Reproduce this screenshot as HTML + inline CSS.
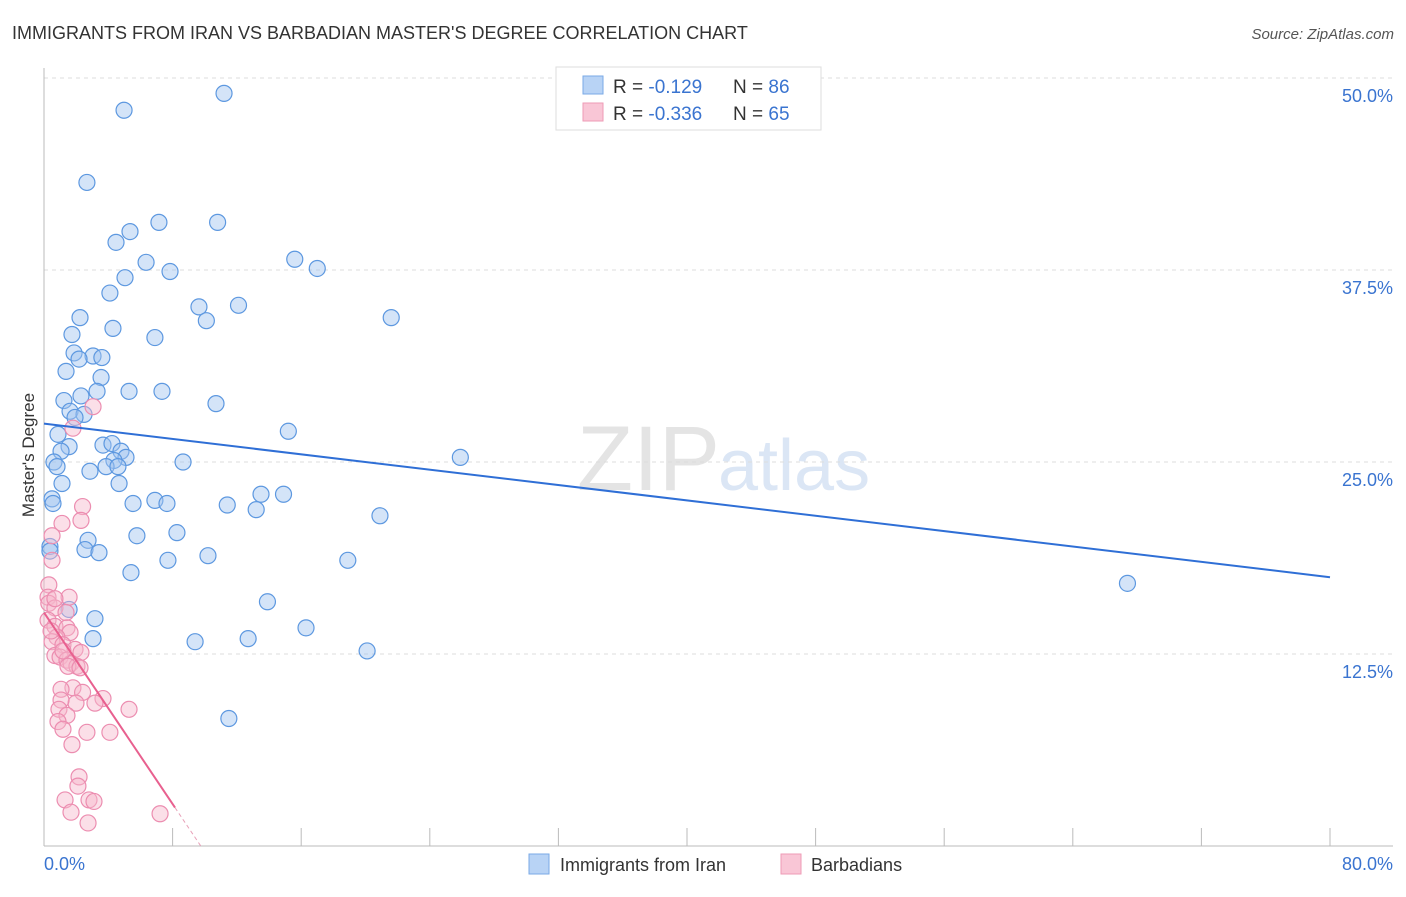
<!DOCTYPE html>
<html><head><meta charset="utf-8"><style>
body{margin:0;background:#fff;font-family:"Liberation Sans",sans-serif;}
svg text{font-family:"Liberation Sans",sans-serif;}
</style></head><body>
<svg id="chart" width="1406" height="892" xmlns="http://www.w3.org/2000/svg">
<text x="12" y="39" font-size="18" fill="#333">IMMIGRANTS FROM IRAN VS BARBADIAN MASTER'S DEGREE CORRELATION CHART</text>
<text x="1394" y="39" font-size="15" fill="#555" text-anchor="end" font-style="italic">Source: ZipAtlas.com</text>
<text x="720" y="490" font-size="92" fill="#e4e4e4" text-anchor="end" font-family="Liberation Serif">ZIP</text>
<text x="718" y="490" font-size="72" fill="#dbe6f5">atlas</text>
<g id="grid"></g><g id="axes"></g><g id="marks"></g>
<text x="34" y="455" font-size="17" fill="#333" text-anchor="middle" transform="rotate(-90 34 455)">Master's Degree</text>
<text x="44" y="870" font-size="18" fill="#3a74d0">0.0%</text>
<text x="1393" y="870" font-size="18" fill="#3a74d0" text-anchor="end">80.0%</text>
<g>
<rect x="556" y="67" width="265" height="63" fill="#fff" stroke="#ddd"/>
<rect x="583" y="76" width="20" height="18" fill="#b8d3f5" stroke="#7aaae6"/>
<rect x="583" y="103" width="20" height="18" fill="#f9c6d6" stroke="#ee9bb6"/>
<text x="613" y="93" font-size="19" fill="#333">R = <tspan fill="#3a74d0"> -0.129</tspan><tspan x="733">N = </tspan><tspan fill="#3a74d0">86</tspan></text>
<text x="613" y="120" font-size="19" fill="#333">R = <tspan fill="#3a74d0">-0.336</tspan><tspan x="733">N = </tspan><tspan fill="#3a74d0">65</tspan></text>
</g>
<g>
<rect x="529" y="854" width="20" height="20" fill="#b8d3f5" stroke="#7aaae6"/>
<text x="560" y="871" font-size="18" fill="#333">Immigrants from Iran</text>
<rect x="781" y="854" width="20" height="20" fill="#f9c6d6" stroke="#ee9bb6"/>
<text x="811" y="871" font-size="18" fill="#333">Barbadians</text>
</g>
</svg>
<script>
const yTicks=[12.5,25.0,37.5,50.0];
const xTicks=[0,8,16,24,32,40,48,56,64,72,80];
const blueX=[4.98,11.2,2.67,4.48,5.35,7.15,10.8,6.35,7.84,5.04,4.1,15.6,17.0,9.64,12.1,10.1,21.6,2.24,1.74,4.29,6.9,1.87,3.05,3.6,2.18,1.37,3.55,3.3,5.29,7.34,2.3,1.24,10.7,1.62,2.49,1.93,15.2,0.87,1.56,3.67,4.23,1.06,4.79,5.1,25.9,4.35,0.62,0.81,3.86,4.6,8.65,2.86,1.12,4.67,0.5,0.56,5.54,6.9,7.65,11.4,13.5,14.9,13.2,20.9,8.27,5.78,2.74,0.37,2.55,3.42,0.37,10.2,7.71,18.9,5.41,67.4,13.9,1.56,3.17,16.3,3.05,12.7,9.4,20.1,11.5];
const blueY=[47.9,49.0,43.2,39.3,40.0,40.6,40.6,38.0,37.4,37.0,36.0,38.2,37.6,35.1,35.2,34.2,34.4,34.4,33.3,33.7,33.1,32.1,31.9,31.8,31.7,30.9,30.5,29.6,29.6,29.6,29.3,29.0,28.8,28.3,28.1,27.9,27.0,26.8,26.0,26.1,26.2,25.7,25.7,25.3,25.3,25.1,25.0,24.7,24.7,24.7,25.0,24.4,23.6,23.6,22.6,22.3,22.3,22.5,22.3,22.2,22.9,22.9,21.9,21.5,20.4,20.2,19.9,19.5,19.3,19.1,19.2,18.9,18.6,18.6,17.8,17.1,15.9,15.4,14.8,14.2,13.5,13.5,13.3,12.7,8.3];
const pinkX=[3.05,1.8,2.4,2.3,1.12,0.5,0.5,0.3,0.25,1.56,0.3,0.68,1.37,0.25,0.68,1.43,1.62,0.8,0.5,1.18,1.93,2.3,0.68,1.0,1.43,1.68,2.05,1.49,2.24,1.8,2.4,1.06,3.67,3.17,1.99,1.06,0.93,5.29,1.43,0.87,1.18,2.67,4.1,1.74,2.18,2.11,1.31,2.8,3.11,1.68,2.74,7.22,0.68,0.44,1.18];
const pinkY=[28.6,27.2,22.1,21.2,21.0,20.2,18.6,17.0,16.2,16.2,15.8,15.5,15.2,14.7,14.3,14.2,13.9,13.6,13.3,13.1,12.8,12.6,12.4,12.3,12.1,11.9,11.7,11.7,11.6,10.3,10.0,10.2,9.6,9.3,9.3,9.5,8.9,8.9,8.5,8.1,7.6,7.4,7.4,6.6,4.5,3.9,3.0,3.0,2.9,2.2,1.5,2.1,16.1,14.0,12.7];
const blueTrend=[27.5,17.5];
const pinkTrend=[15.2,2.5];
const X=v=>44+v*16.075, Y=v=>846-v*15.36;
const NS='http://www.w3.org/2000/svg';
function mk(tag,attrs,parent){const e=document.createElementNS(NS,tag);for(const k in attrs)e.setAttribute(k,attrs[k]);document.getElementById(parent).appendChild(e);return e;}
yTicks.forEach(t=>{
 const l=mk('line',{x1:44,x2:1393,y1:Y(t),y2:Y(t),stroke:'#ddd','stroke-dasharray':'4 4'},'grid');
 
 
 const tx=mk('text',{x:1393,y:Y(t)+24,'font-size':18,fill:'#3a74d0','text-anchor':'end'},'grid');
 tx.textContent=t.toFixed(1)+'%';
 
 
});
const ax=mk('line',{x1:44,x2:1393,y1:846,y2:846,stroke:'#bbb'},'axes');


const ay=mk('line',{x1:44,x2:44,y1:68,y2:846,stroke:'#bbb'},'axes');


xTicks.forEach(t=>{
 const l=mk('line',{x1:X(t),x2:X(t),y1:828,y2:846,stroke:'#bbb'},'axes');
 
 
});
blueX.forEach((v,i)=>{
 const c=mk('circle',{cx:X(v),cy:Y(blueY[i]),r:8,fill:'rgba(160,196,240,0.45)',stroke:'#5d98e0','stroke-width':1.2},'marks');
 
 
});
pinkX.forEach((v,i)=>{
 const c=mk('circle',{cx:X(v),cy:Y(pinkY[i]),r:8,fill:'rgba(247,184,205,0.45)',stroke:'#ec8db0','stroke-width':1.2},'marks');
 
 
});
const bl=mk('line',{x1:X(0),y1:Y(blueTrend[0]),x2:X(80),y2:Y(blueTrend[1]),stroke:'#2f6fd6','stroke-width':2},'marks');


const slope=(pinkTrend[1]-pinkTrend[0])/8.15;
const pl=mk('line',{x1:X(0),y1:Y(pinkTrend[0]),x2:X(8.15),y2:Y(pinkTrend[1]),stroke:'#e8608f','stroke-width':2},'marks');


const xz=-pinkTrend[0]/slope;
const pd=mk('line',{x1:X(8.15),y1:Y(pinkTrend[1]),x2:X(xz),y2:Y(0),stroke:'#e8a0b8','stroke-width':1,'stroke-dasharray':'4 3'},'marks');


</script>
</body></html>
